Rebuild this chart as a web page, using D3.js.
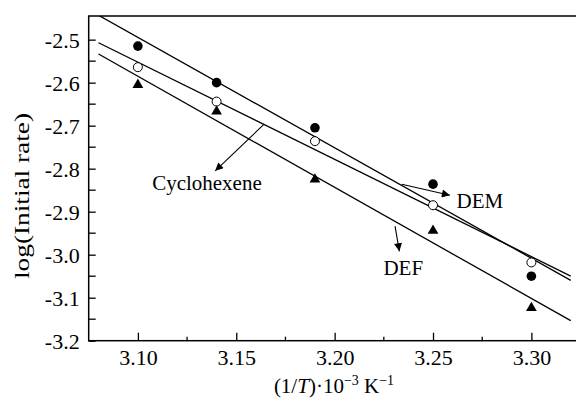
<!DOCTYPE html>
<html><head><meta charset="utf-8">
<script src="https://cdn.jsdelivr.net/npm/d3@7"></script>
<style>body{margin:0;background:#fff;} svg{display:block;} text{font-family:"Liberation Serif","Times New Roman",serif;fill:#000;}</style>
</head><body>
<svg id="c" width="576" height="399"></svg>
<script>
const xTemps = [3.10, 3.14, 3.19, 3.25, 3.30];
const demVals = [-2.515, -2.600, -2.705, -2.836, -3.050];
const cycloVals = [-2.564, -2.644, -2.736, -2.885, -3.018];
const defVals = [-2.605, -2.667, -2.825, -2.944, -3.124];
const xTicks = [3.10, 3.15, 3.20, 3.25, 3.30];
const yTicks = [-2.5, -2.6, -2.7, -2.8, -2.9, -3.0, -3.1, -3.2];
const fitRange = [3.08, 3.32];
// annotations in data units: [x1,y1,x2,y2], label [x,y]
const annCyclo = {arrow:[3.1639,-2.6977,3.1393,-2.8051], label:[3.1351,-2.8495], text:"Cyclohexene", anchor:"middle"};
const annDEM = {arrow:[3.2341,-2.8362,3.2586,-2.8619], label:[3.2620,-2.8907], text:"DEM", anchor:"start"};
const annDEF = {arrow:[3.2307,-2.9336,3.2329,-2.9921], label:[3.2248,-3.0465], text:"DEF", anchor:"start"};

const svg = d3.select("#c");
const x = d3.scaleLinear().domain([3.075, 3.325]).range([88.7, 88.7 + 0.25*1967.5]);
const y = d3.scaleLinear().domain([-3.2, -2.445]).range([340.7, 16]);

function fit(xs, ys){
  const mx=d3.mean(xs), my=d3.mean(ys);
  let sxy=0,sxx=0; xs.forEach((v,i)=>{sxy+=(v-mx)*(ys[i]-my); sxx+=(v-mx)*(v-mx);});
  const b=sxy/sxx; return t=>my+b*(t-mx);
}

svg.append("defs").append("marker").attr("id","ah").attr("viewBox","0 0 10 10")
  .attr("refX",10).attr("refY",5).attr("markerWidth",11).attr("markerHeight",8)
  .attr("markerUnits","userSpaceOnUse").attr("orient","auto")
  .append("path").attr("d","M0,0 L10,5 L0,10 Z").attr("fill","#000");
svg.select("defs").append("clipPath").attr("id","pc").append("rect")
  .attr("x",x.range()[0]).attr("y",y.range()[1]).attr("width",x.range()[1]-x.range()[0]).attr("height",y.range()[0]-y.range()[1]);

// fit lines
const g = svg.append("g").attr("clip-path","url(#pc)");
[demVals, cycloVals, defVals].forEach(vals=>{
  const f = fit(xTemps, vals);
  g.append("line").attr("x1",x(fitRange[0])).attr("y1",y(f(fitRange[0])))
   .attr("x2",x(fitRange[1])).attr("y2",y(f(fitRange[1])))
   .attr("stroke","#000").attr("stroke-width",1.3);
});

// points
g.selectAll(".dem").data(xTemps).enter().append("circle")
  .attr("cx",d=>x(d)).attr("cy",(d,i)=>y(demVals[i])).attr("r",4.8).attr("fill","#000");
g.selectAll(".cy").data(xTemps).enter().append("circle")
  .attr("cx",d=>x(d)).attr("cy",(d,i)=>y(cycloVals[i])).attr("r",4.5).attr("fill","#fff").attr("stroke","#000").attr("stroke-width",1);
const tri = d3.symbol().type(d3.symbolTriangle).size(50);
g.selectAll(".df").data(xTemps).enter().append("path")
  .attr("d",tri).attr("transform",(d,i)=>`translate(${x(d)},${y(defVals[i])})`).attr("fill","#000");

// frame
svg.append("rect").attr("x",x.range()[0]).attr("y",y.range()[1])
  .attr("width",x.range()[1]-x.range()[0]).attr("height",y.range()[0]-y.range()[1])
  .attr("fill","none").attr("stroke","#000").attr("stroke-width",1.5);

// x axis
const xa = svg.append("g").attr("transform",`translate(0,${y.range()[0]})`);
xa.call(d3.axisBottom(x).tickValues(xTicks).tickFormat(d3.format(".2f")).tickSizeInner(-8).tickSizeOuter(0));
xa.select(".domain").remove();
xa.selectAll("text").attr("y",24).attr("dy",0).attr("font-size",22);
xa.selectAll("line").attr("stroke-width",1.3);
const xMinor = d3.range(3.125, 3.33, 0.05);
xa.selectAll(".mn").data(xMinor).enter().append("line")
  .attr("x1",d=>x(d)).attr("x2",d=>x(d)).attr("y1",0).attr("y2",-4).attr("stroke","#000").attr("stroke-width",1.3);

// y axis
const yfmt = d => d3.format(".1f")(d).replace("−","-");
const ya = svg.append("g").attr("transform",`translate(${x.range()[0]},0)`);
ya.call(d3.axisLeft(y).tickValues(yTicks).tickFormat(yfmt).tickSizeInner(-7).tickSizeOuter(0).tickPadding(9));
ya.select(".domain").remove();
ya.selectAll("text").attr("font-size",22).attr("dy","0.34em");
ya.selectAll("line").attr("stroke-width",1.3);
const yMinor = d3.range(-3.15, -2.46, 0.1);
ya.selectAll(".mn").data(yMinor).enter().append("line")
  .attr("x1",0).attr("x2",7).attr("y1",d=>y(d)).attr("y2",d=>y(d)).attr("stroke","#000").attr("stroke-width",1.3);

// axis titles
const xt = svg.append("text").attr("x",334).attr("y",393).attr("text-anchor","middle").attr("font-size",21);
xt.append("tspan").text("(1/");
xt.append("tspan").attr("font-style","italic").text("T");
xt.append("tspan").text(")·10");
xt.append("tspan").attr("dy",-8).attr("font-size",14).text("−3");
xt.append("tspan").attr("dy",8).text(" K");
xt.append("tspan").attr("dy",-8).attr("font-size",14).text("−1");

svg.append("text").attr("transform","translate(29,196) rotate(-90)").attr("text-anchor","middle")
  .attr("font-size",22).attr("textLength",166).attr("lengthAdjust","spacingAndGlyphs").text("log(Initial rate)");

// annotations
[annCyclo, annDEM, annDEF].forEach(a=>{
  svg.append("line").attr("x1",x(a.arrow[0])).attr("y1",y(a.arrow[1]))
    .attr("x2",x(a.arrow[2])).attr("y2",y(a.arrow[3]))
    .attr("stroke","#000").attr("stroke-width",1.1).attr("marker-end","url(#ah)");
  svg.append("text").attr("x",x(a.label[0])).attr("y",y(a.label[1])).attr("text-anchor",a.anchor)
    .attr("font-size",21).text(a.text);
});
</script>
</body></html>
